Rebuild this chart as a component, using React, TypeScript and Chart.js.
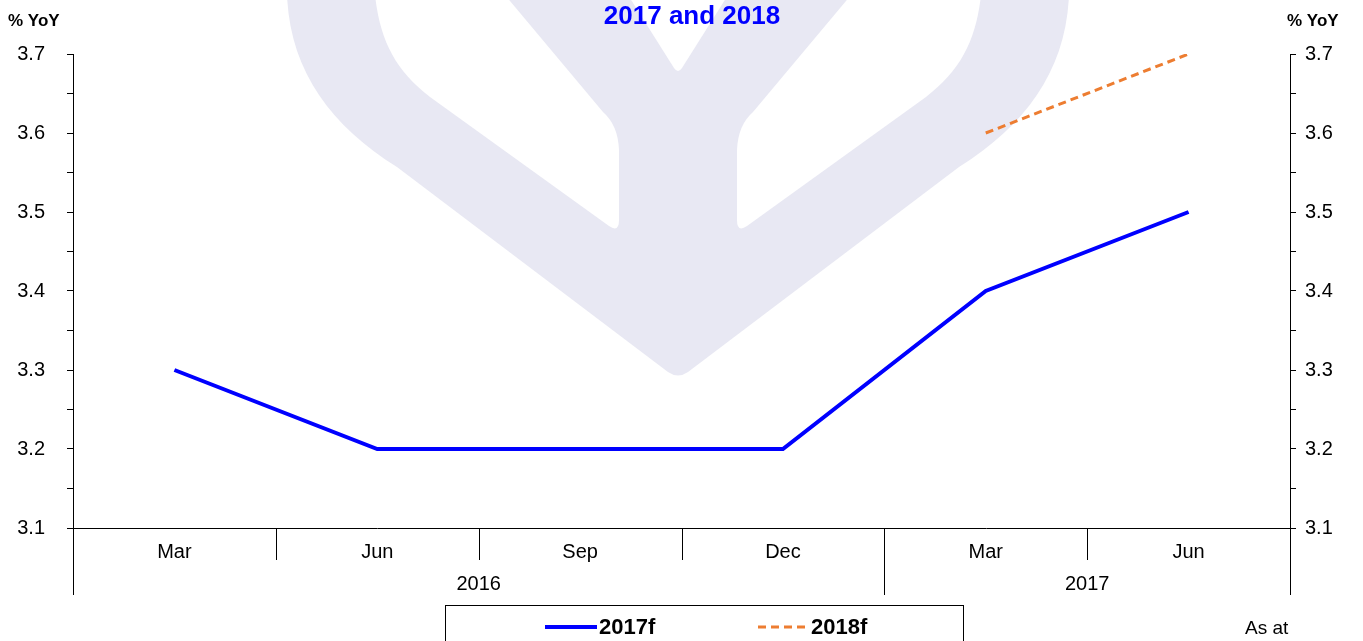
import React, { useEffect, useRef } from "react";
import { Chart, registerables } from "chart.js";

Chart.register(...registerables);

const categories = ["Mar", "Jun", "Sep", "Dec", "Mar", "Jun"];
const yearLabels = ["2016", "2017"];
const yearSpans = [4, 2];
const series2017f = [3.3, 3.2, 3.2, 3.2, 3.4, 3.5];
const series2018f = [null, null, null, null, 3.6, 3.7];
const seriesNames = ["2017f", "2018f"];
const yMin = 3.1;
const yMax = 3.7;
const yStep = 0.05;
const titleText = "2017 and 2018";
const unitText = "% YoY";
const noteText = "As at";

const FONT = "'Liberation Sans', Arial, sans-serif";
const BLUE = "#0000ff";
const ORANGE = "#ed7d31";
const LAVENDER = "rgb(232,232,243)";

function drawWatermark(ctx: CanvasRenderingContext2D) {
  const cx = 678;
  const mx = (x: number) => 2 * cx - x;
  ctx.save();
  ctx.beginPath();
  ctx.moveTo(287, -5);
  ctx.bezierCurveTo(290, 70, 330, 125, 397, 167);
  ctx.lineTo(668, 372);
  ctx.quadraticCurveTo(678, 379, 688, 372);
  ctx.lineTo(mx(397), 167);
  ctx.bezierCurveTo(mx(330), 125, mx(290), 70, mx(287), -5);
  ctx.closePath();
  ctx.fillStyle = LAVENDER;
  ctx.fill();
  ctx.fillStyle = "#ffffff";
  for (const side of [0, 1]) {
    const f = side === 0 ? (x: number) => x : mx;
    ctx.beginPath();
    ctx.moveTo(f(375), -5);
    ctx.bezierCurveTo(f(380), 40, f(395), 70, f(430), 97);
    ctx.lineTo(f(609), 226);
    ctx.quadraticCurveTo(f(619), 233, f(619), 220);
    ctx.lineTo(f(619), 150);
    ctx.quadraticCurveTo(f(618), 125, f(603), 112);
    ctx.lineTo(f(505), -5);
    ctx.closePath();
    ctx.fill();
  }
  ctx.beginPath();
  ctx.moveTo(628, -5);
  ctx.lineTo(674, 68);
  ctx.quadraticCurveTo(678, 74, 682, 68);
  ctx.lineTo(728, -5);
  ctx.closePath();
  ctx.fill();
  ctx.restore();
}

const decorPlugin = {
  id: "decor",
  beforeDraw(chart: any) {
    const ctx = chart.ctx as CanvasRenderingContext2D;
    ctx.save();
    ctx.fillStyle = "#ffffff";
    ctx.fillRect(0, 0, chart.width, chart.height);
    ctx.restore();
    drawWatermark(ctx);
  },
  afterDraw(chart: any) {
    const ctx = chart.ctx as CanvasRenderingContext2D;
    const xs = chart.scales.x;
    const area = chart.chartArea;
    const n = categories.length;
    const half = (xs.getPixelForValue(1) - xs.getPixelForValue(0)) / 2;
    const boundary = (i: number) =>
      i < n ? xs.getPixelForValue(i) - half : xs.getPixelForValue(n - 1) + half;
    const yearEdges = new Set<number>();
    let acc = 0;
    yearEdges.add(0);
    yearSpans.forEach((s) => {
      acc += s;
      yearEdges.add(acc);
    });
    ctx.save();
    ctx.strokeStyle = "#000000";
    ctx.lineWidth = 1;
    for (let i = 0; i <= n; i++) {
      const x = Math.round(boundary(i)) + 0.5;
      ctx.beginPath();
      ctx.moveTo(x, area.bottom);
      ctx.lineTo(x, yearEdges.has(i) ? area.bottom + 67 : area.bottom + 32);
      ctx.stroke();
    }
    ctx.fillStyle = "#000000";
    ctx.font = `20px ${FONT}`;
    ctx.textAlign = "center";
    ctx.textBaseline = "middle";
    let start = 0;
    yearSpans.forEach((s, k) => {
      const x = (boundary(start) + boundary(start + s)) / 2;
      ctx.fillText(yearLabels[k], x, area.bottom + 56);
      start += s;
    });
    ctx.fillStyle = BLUE;
    ctx.font = `bold 26px ${FONT}`;
    ctx.textAlign = "center";
    ctx.textBaseline = "alphabetic";
    ctx.fillText(titleText, 692, 24);
    ctx.fillStyle = "#000000";
    ctx.font = `bold 17px ${FONT}`;
    ctx.textAlign = "left";
    ctx.fillText(unitText, 8, 26);
    ctx.fillText(unitText, 1287, 26);
    ctx.strokeStyle = "#000000";
    ctx.lineWidth = 1;
    ctx.strokeRect(445.5, 605.5, 518, 60);
    const ds = chart.data.datasets;
    const items = [
      { x0: 545, x1: 597, tx: 599 },
      { x0: 758, x1: 808, tx: 811 },
    ];
    items.forEach((it, k) => {
      ctx.save();
      ctx.strokeStyle = ds[k].borderColor;
      ctx.lineWidth = ds[k].borderWidth;
      ctx.setLineDash(ds[k].borderDash || []);
      ctx.beginPath();
      ctx.moveTo(it.x0, 627);
      ctx.lineTo(it.x1, 627);
      ctx.stroke();
      ctx.restore();
      ctx.fillStyle = "#000000";
      ctx.font = `bold 22px ${FONT}`;
      ctx.textAlign = "left";
      ctx.textBaseline = "middle";
      ctx.fillText(seriesNames[k], it.tx, 628);
    });
    ctx.font = `19px ${FONT}`;
    ctx.textAlign = "left";
    ctx.textBaseline = "middle";
    ctx.fillText(noteText, 1245, 629);
    ctx.restore();
  },
};

function yTickLabel(v: number) {
  const r = Math.round(v * 100);
  return r % 10 === 0 ? (r / 100).toFixed(1) : "";
}

export default function App() {
  const ref = useRef<HTMLCanvasElement | null>(null);
  useEffect(() => {
    if (!ref.current) return;
    const yCommon = {
      min: yMin,
      max: yMax,
      grid: {
        display: true,
        drawOnChartArea: false,
        drawTicks: true,
        tickLength: 6,
        color: "#000000",
        lineWidth: 1,
      },
      border: { display: true, color: "#000000", width: 1 },
    };
    const chart = new Chart(ref.current, {
      type: "line",
      data: {
        labels: categories,
        datasets: [
          {
            label: seriesNames[0],
            data: series2017f,
            borderColor: BLUE,
            backgroundColor: BLUE,
            borderWidth: 4,
            pointRadius: 0,
            tension: 0,
            yAxisID: "y",
          },
          {
            label: seriesNames[1],
            data: series2018f,
            borderColor: ORANGE,
            backgroundColor: ORANGE,
            borderWidth: 3,
            borderDash: [8, 5],
            pointRadius: 0,
            tension: 0,
            yAxisID: "y",
          },
        ],
      },
      options: {
        animation: false,
        responsive: false,
        maintainAspectRatio: false,
        devicePixelRatio: 1,
        layout: { padding: { top: 54, left: 0, right: 0, bottom: 0 } },
        plugins: {
          legend: { display: false },
          title: { display: false },
          tooltip: { enabled: false },
        },
        scales: {
          x: {
            type: "category",
            offset: true,
            grid: { display: false, drawTicks: false },
            border: { display: true, color: "#000000", width: 1 },
            ticks: {
              color: "#000000",
              font: { family: FONT, size: 20 },
              padding: 12,
              maxRotation: 0,
              autoSkip: false,
            },
            afterFit: (s: any) => {
              s.height = 113;
            },
          },
          y: {
            ...yCommon,
            position: "left",
            ticks: {
              stepSize: yStep,
              color: "#000000",
              font: { family: FONT, size: 20 },
              padding: 22,
              autoSkip: false,
              callback: (v: any) => yTickLabel(Number(v)),
            },
            afterFit: (s: any) => {
              s.width = 73;
            },
          },
          y2: {
            ...yCommon,
            position: "right",
            ticks: {
              stepSize: yStep,
              color: "#000000",
              font: { family: FONT, size: 20 },
              padding: 9,
              autoSkip: false,
              callback: (v: any) => yTickLabel(Number(v)),
            },
            afterFit: (s: any) => {
              s.width = 73;
            },
          },
        },
      } as any,
      plugins: [decorPlugin],
    });
    return () => chart.destroy();
  }, []);
  return (
    <div style={{ position: "fixed", left: 0, top: 0, width: 1363, height: 641 }}>
      <canvas ref={ref} width={1363} height={641} style={{ display: "block" }} />
    </div>
  );
}
